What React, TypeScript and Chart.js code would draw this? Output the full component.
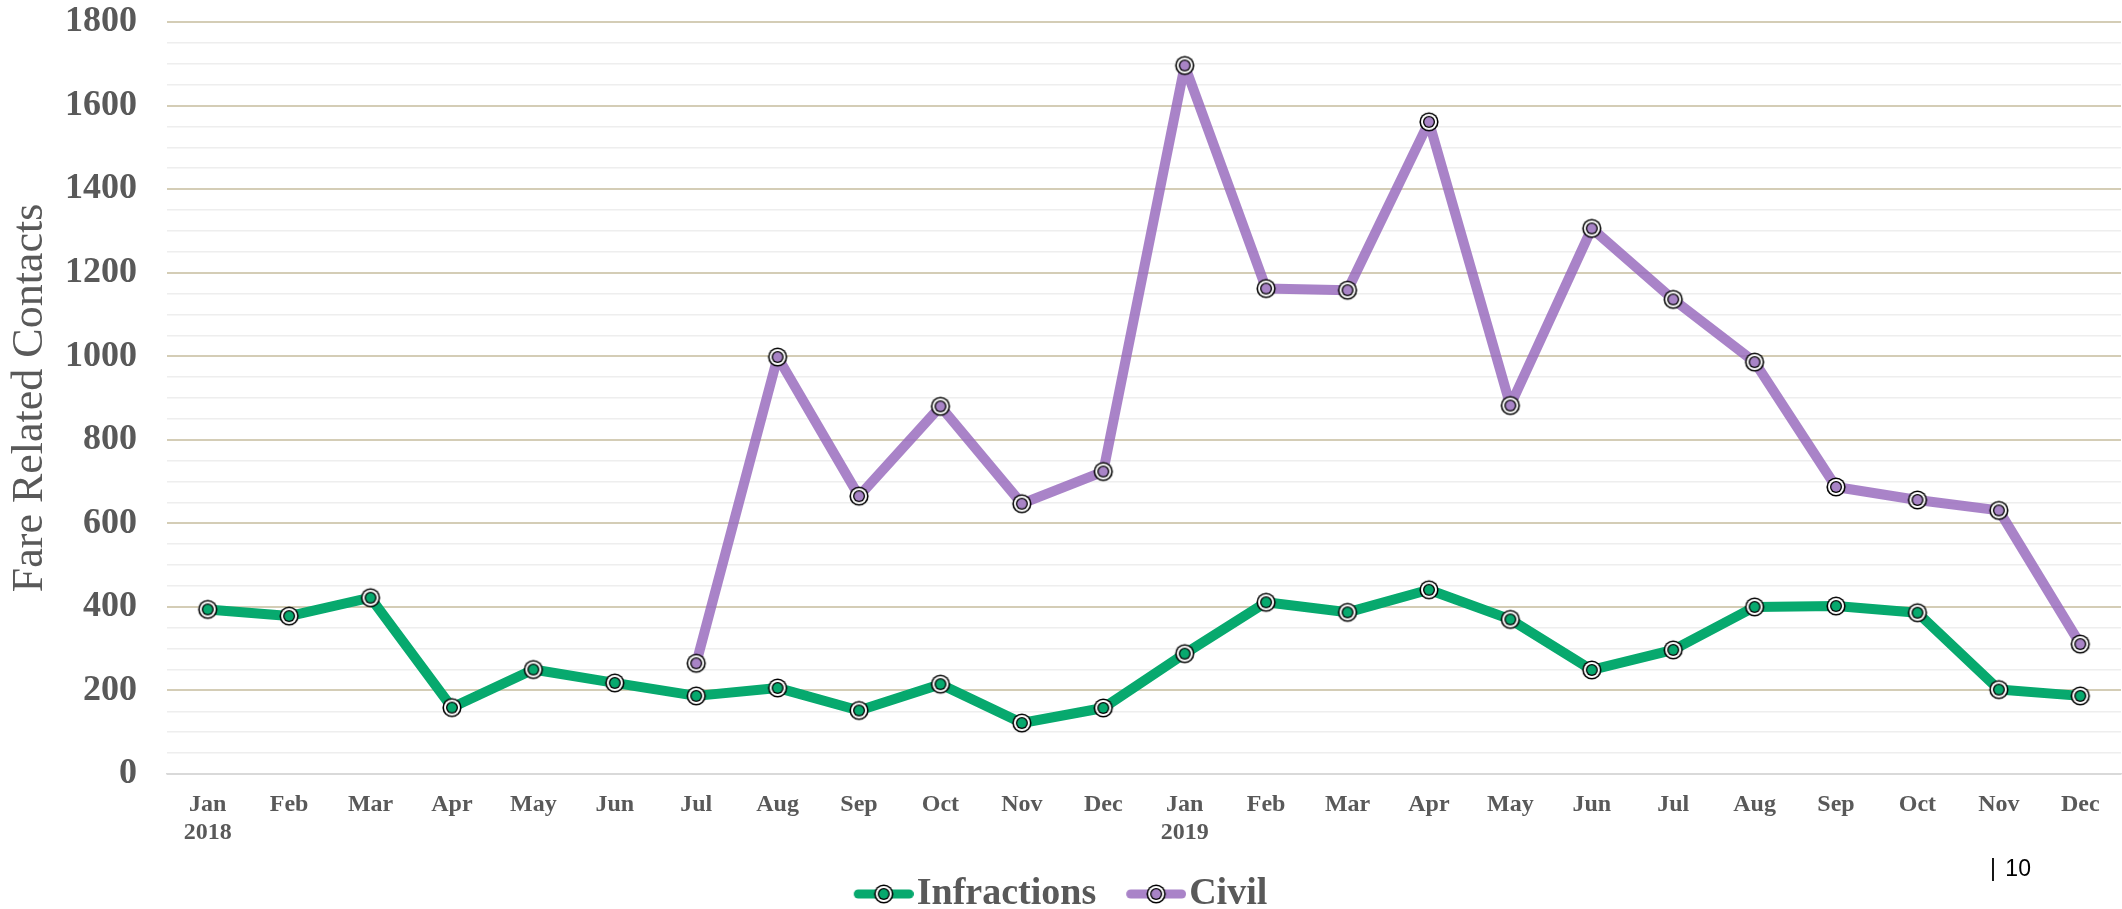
import React, { useEffect, useRef } from 'react';
import { Chart, registerables } from 'chart.js';

Chart.register(...registerables);

// ---- data ----
const categories: (string | string[])[] = [
  ['Jan', '2018'], 'Feb', 'Mar', 'Apr', 'May', 'Jun', 'Jul', 'Aug', 'Sep', 'Oct', 'Nov', 'Dec',
  ['Jan', '2019'], 'Feb', 'Mar', 'Apr', 'May', 'Jun', 'Jul', 'Aug', 'Sep', 'Oct', 'Nov', 'Dec',
];

const infractions = [394, 378, 422, 159, 250, 218, 187, 206, 152, 215, 122, 158,
  288, 411, 387, 441, 370, 249, 297, 400, 402, 386, 202, 187];

const civil = [null, null, null, null, null, null, 265, 998, 665, 880, 647, 724,
  1696, 1162, 1158, 1561, 882, 1306, 1136, 986, 687, 656, 631, 311];

const seriesNames = ['Infractions', 'Civil'];
const yMin = 0;
const yMax = 1800;
const yMinorStep = 50;
const yMajorStep = 200;
const yTitle = 'Fare Related Contacts';
const pageNumber = '| 10';

// ---- styles ----
const GREEN = '#07A96E';
const PURPLE_LINE = 'rgba(150,104,188,0.82)';
const PURPLE_FILL = '#A884C6';
const TEXT = '#595959';
const GOLD = '#D4CDB6';
const MINOR = '#EEEEEE';
const AXIS = '#D9D9D9';
const SERIF = "'Liberation Serif', 'Times New Roman', serif";
const LINE_W = 10;

function circle(g: CanvasRenderingContext2D, cx: number, cy: number, r: number, color: string) {
  g.beginPath();
  g.arc(cx, cy, r, 0, Math.PI * 2);
  g.fillStyle = color;
  g.fill();
}

function drawMarker(g: CanvasRenderingContext2D, cx: number, cy: number, fill: string) {
  circle(g, cx, cy, 9.6, '#000');
  circle(g, cx, cy, 8.0, '#fff');
  circle(g, cx, cy, 6.0, '#000');
  circle(g, cx, cy, 4.7, fill);
}

function makeMarker(fill: string) {
  const c = document.createElement('canvas');
  c.width = 22;
  c.height = 22;
  const g = c.getContext('2d')!;
  drawMarker(g, 11, 11, fill);
  return c;
}

function makeLegendIcon(lineColor: string, fill: string) {
  const c = document.createElement('canvas');
  c.width = 76;
  c.height = 22;
  const g = c.getContext('2d')!;
  g.strokeStyle = lineColor;
  g.lineWidth = 9;
  g.lineCap = 'round';
  g.beginPath();
  g.moveTo(16 + 4.5, 11);
  g.lineTo(76 - 4.5, 11);
  g.stroke();
  drawMarker(g, 46, 11, fill);
  return c;
}

export default function App() {
  const ref = useRef<HTMLCanvasElement>(null);

  useEffect(() => {
    const greenMarker = makeMarker(GREEN);
    const purpleMarker = makeMarker(PURPLE_FILL);
    const legendIcons = [makeLegendIcon(GREEN, GREEN), makeLegendIcon(PURPLE_LINE, PURPLE_FILL)];

    const zeroPad = (s: any) => {
      s.paddingTop = 0;
      s.paddingBottom = 0;
      s.paddingLeft = 0;
      s.paddingRight = 0;
    };

    const chart = new Chart(ref.current!, {
      type: 'line',
      data: {
        labels: categories,
        datasets: [
          {
            label: seriesNames[0],
            data: infractions,
            borderColor: GREEN,
            backgroundColor: GREEN,
            borderWidth: LINE_W,
            borderJoinStyle: 'round',
            borderCapStyle: 'round',
            pointStyle: greenMarker as any,
            pointRadius: 10,
            tension: 0,
          },
          {
            label: seriesNames[1],
            data: civil,
            borderColor: PURPLE_LINE,
            backgroundColor: PURPLE_FILL,
            borderWidth: LINE_W,
            borderJoinStyle: 'round',
            borderCapStyle: 'round',
            pointStyle: purpleMarker as any,
            pointRadius: 10,
            tension: 0,
            spanGaps: false,
          },
        ],
      },
      options: {
        responsive: false,
        animation: false,
        layout: { autoPadding: false, padding: { top: 22, right: 1, left: 0, bottom: 0 } },
        plugins: {
          tooltip: { enabled: false },
          legend: {
            position: 'bottom',
            align: 'center',
            labels: {
              usePointStyle: true,
              pointStyleWidth: 44,
              padding: 30,
              color: TEXT,
              font: { family: SERIF, size: 38, weight: 'bold' },
              generateLabels: (ch: any) => {
                const items = (Chart.defaults.plugins.legend.labels as any).generateLabels(ch);
                return items
                  .sort((a: any, b: any) => a.datasetIndex - b.datasetIndex)
                  .map((it: any) => ({ ...it, pointStyle: legendIcons[it.datasetIndex], fontColor: TEXT }));
              },
            },
          },
        },
        scales: {
          x: {
            type: 'category',
            offset: true,
            grid: { display: false, drawTicks: false },
            border: { display: true, color: AXIS, width: 1.5 },
            ticks: {
              color: TEXT,
              padding: 17,
              maxRotation: 0,
              autoSkip: false,
              font: { family: SERIF, size: 24, weight: 'bold', lineHeight: 1.15 },
            },
            afterFit: (s: any) => { s.height = 71; zeroPad(s); },
          },
          y: {
            min: yMin,
            max: yMax,
            border: { display: false },
            grid: {
              drawTicks: false,
              color: (ctx: any) => {
                const v = ctx.tick ? ctx.tick.value : 1;
                if (v === 0) return AXIS;
                return v % yMajorStep === 0 ? GOLD : MINOR;
              },
              lineWidth: (ctx: any) => {
                const v = ctx.tick ? ctx.tick.value : 1;
                return v % yMajorStep === 0 ? 2 : 1.5;
              },
            },
            ticks: {
              stepSize: yMinorStep,
              autoSkip: false,
              padding: 30,
              color: TEXT,
              font: { family: SERIF, size: 36, weight: 'bold' },
              callback: (v: any) => (Number(v) % yMajorStep === 0 ? String(v) : ''),
            },
            title: {
              display: true,
              text: yTitle,
              color: TEXT,
              padding: { top: 4, bottom: 0 },
              font: { family: SERIF, size: 44, weight: 'normal' },
            },
            afterFit: (s: any) => { s.width = 167; zeroPad(s); },
          },
        },
      },
    } as any);
    return () => chart.destroy();
  }, []);

  return (
    <div style={{ position: 'fixed', left: 0, top: 0, width: 2122, height: 909, overflow: 'hidden', background: '#fff' }}>
      <canvas ref={ref} width={2122} height={923} style={{ display: 'block', width: 2122, height: 923 }} />
      <div
        style={{
          position: 'absolute',
          left: 1990,
          top: 855,
          font: "23px 'Liberation Sans', Arial, sans-serif",
          color: '#000',
          whiteSpace: 'pre',
          wordSpacing: 3,
        }}
      >
        {pageNumber}
      </div>
    </div>
  );
}
